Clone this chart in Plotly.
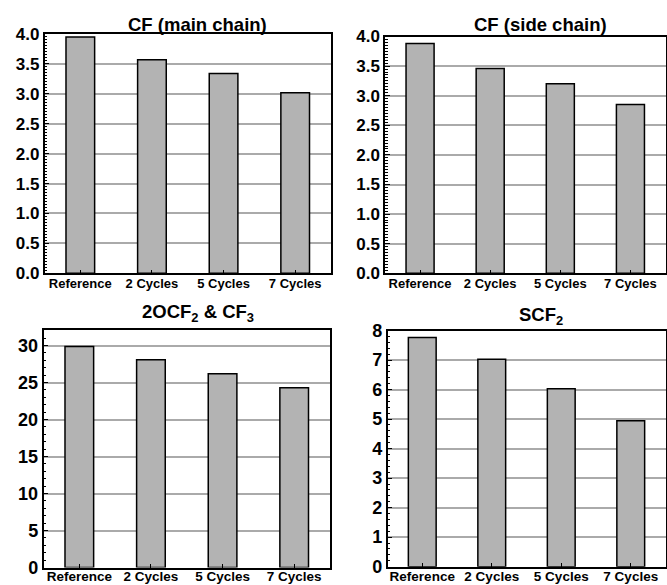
import plotly.graph_objects as go

categories = ["Reference", "2 Cycles", "5 Cycles", "7 Cycles"]
cf_main = [3.95, 3.57, 3.34, 3.02]
cf_side = [3.88, 3.46, 3.20, 2.85]
ocf2_cf3 = [29.86, 28.07, 26.2, 24.3]
scf2 = [7.76, 7.03, 6.03, 4.94]

titles = ["CF (main chain)", "CF (side chain)", "2OCF<sub>2</sub> &amp; CF<sub>3</sub>", "SCF<sub>2</sub>"]
series = [cf_main, cf_side, ocf2_cf3, scf2]

W, H = 667, 585
FONT = "Liberation Sans, Arial, sans-serif"

# pixel boxes: (left, right, top, bottom)
boxes = [
    (44.5, 331.0, 34.0, 273.3),
    (385.0, 665.5, 36.5, 273.3),
    (43.5, 330.0, 330.0, 567.5),
    (387.5, 665.5, 330.5, 566.7),
]
yranges = [[0, 4.0], [0, 4.0], [0, 32.1], [0, 8.0]]
ydticks = [0.5, 0.5, 5, 1]
yminor = [0.05, 0.05, 1, 0.2]
ytickfmt = [".1f", ".1f", "d", "d"]
ylabsize = [17, 17, 18, 18]
xlabsize = [13, 13, 13.5, 13.5]
xstandoff = [-3, -3, -4, -4]
title_pos = [(197, 25), (540, 25), (197.5, 313), (541, 316)]

fig = go.Figure()
for i, (vals, box) in enumerate(zip(series, boxes)):
    n = "" if i == 0 else str(i + 1)
    l, r, t, b = box
    fig.add_trace(go.Bar(
        x=categories, y=vals, width=0.4,
        marker=dict(color="#b3b3b3", line=dict(color="black", width=1.5)),
        xaxis="x" + n, yaxis="y" + n, showlegend=False, hoverinfo="skip",
    ))
    fig.layout["xaxis" + n] = dict(
        domain=[l / W, r / W], anchor="y" + n, automargin=False,
        type="category", range=[-0.5, 3.5],
        showline=True, mirror=True, linecolor="black", linewidth=1.5,
        ticks="inside", ticklen=4, tickcolor="black", tickwidth=1,
        showgrid=False, ticklabelstandoff=xstandoff[i],
        tickfont=dict(family=FONT, size=xlabsize[i], color="black", weight="bold"),
    )
    fig.layout["yaxis" + n] = dict(
        domain=[1 - b / H, 1 - t / H], anchor="x" + n, automargin=False,
        range=yranges[i], dtick=ydticks[i], tick0=0, tickformat=ytickfmt[i],
        showline=True, mirror=True, linecolor="black", linewidth=1.5,
        ticks="inside", ticklen=5, tickcolor="black", tickwidth=1,
        showgrid=True, gridcolor="#aaaaaa", gridwidth=2, zeroline=False,
        minor=dict(dtick=yminor[i], tick0=0, ticks="inside", ticklen=3, tickcolor="black", tickwidth=1, showgrid=False),
        tickfont=dict(family=FONT, size=ylabsize[i], color="black", weight="bold"),
    )

annotations = []
for (tx, ty), title in zip(title_pos, titles):
    annotations.append(dict(
        text=title, x=tx / W, y=1 - ty / H, xref="paper", yref="paper",
        xanchor="center", yanchor="middle", showarrow=False,
        font=dict(family=FONT, size=18.5, color="black", weight="bold"),
    ))

fig.update_layout(
    width=W, height=H, margin=dict(l=0, r=0, t=0, b=0, autoexpand=False),
    paper_bgcolor="white", plot_bgcolor="white",
    annotations=annotations, bargap=0.6,
)
fig.write_html(
    "out.html",
    config={"displayModeBar": False},
    post_script="document.body.style.margin='0';document.body.style.padding='0';document.body.style.overflow='hidden';",
)
